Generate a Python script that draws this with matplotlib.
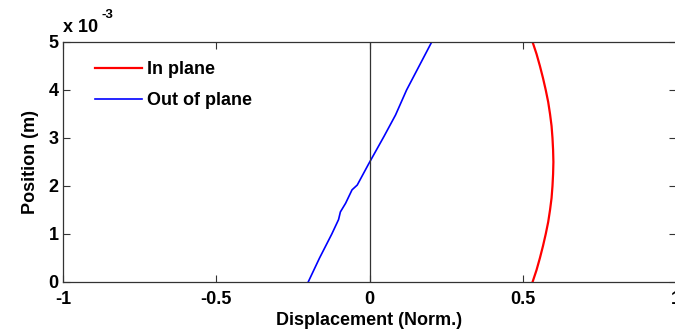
import matplotlib
matplotlib.use("Agg")
import matplotlib.pyplot as plt
from matplotlib.ticker import FuncFormatter

plt.rcParams['font.family'] = ['Liberation Sans', 'DejaVu Sans']
plt.rcParams['font.weight'] = 'bold'

# Data (position in metres, displacement normalised)
red_pos = [0.0, 0.25e-3, 0.5e-3, 0.75e-3, 1.0e-3, 1.25e-3, 1.5e-3, 1.75e-3, 2.0e-3, 2.25e-3,
           2.5e-3, 2.75e-3, 3.0e-3, 3.25e-3, 3.5e-3, 3.75e-3, 4.0e-3, 4.25e-3, 4.5e-3, 4.75e-3, 5.0e-3]
red_disp = [0.532, 0.545, 0.556, 0.566, 0.575, 0.583, 0.589, 0.594, 0.597, 0.599,
            0.600, 0.599, 0.597, 0.594, 0.589, 0.583, 0.575, 0.566, 0.556, 0.545, 0.532]

blue_pos = [0.0, 0.5e-3, 1.0e-3, 1.3e-3, 1.46e-3, 1.64e-3, 1.92e-3, 2.02e-3, 2.47e-3,
            3.03e-3, 3.48e-3, 4.0e-3, 4.5e-3, 5.0e-3]
blue_disp = [-0.200, -0.163, -0.123, -0.101, -0.095, -0.078, -0.057, -0.040, -0.002,
             0.047, 0.085, 0.121, 0.162, 0.203]

legend_labels = ["In plane", "Out of plane"]
x_ticks = [-1, -0.5, 0, 0.5, 1]
x_tick_labels = ["-1", "-0.5", "0", "0.5", "1"]
y_ticks = [0, 1e-3, 2e-3, 3e-3, 4e-3, 5e-3]

W, H = 675, 332
fig = plt.figure(figsize=(W / 100, H / 100), dpi=100)
ax = fig.add_axes([63 / W, 1 - 282 / H, (676 - 63) / W, (282 - 42) / H])

ax.plot(red_disp, red_pos, color='#ff0000', lw=1.6, label=legend_labels[0])
ax.plot(blue_disp, blue_pos, color='#0000ff', lw=1.2, label=legend_labels[1])
ax.axvline(0, color='#333333', lw=0.9)

ax.set_xlim(-1, 1)
ax.set_ylim(0, 5e-3)
ax.set_xticks(x_ticks)
ax.set_xticklabels(x_tick_labels)
ax.set_yticks(y_ticks)
ax.yaxis.set_major_formatter(FuncFormatter(lambda v, p: "%d" % round(v * 1e3)))

for s in ax.spines.values():
    s.set_color('#333333')
    s.set_linewidth(0.9)
ax.tick_params(direction='in', length=5, width=0.8, color='#333333',
               top=True, right=True, labelsize=13)
ax.tick_params(axis='x', pad=6.5)
ax.tick_params(axis='y', pad=3)
for lab in ax.get_xticklabels() + ax.get_yticklabels():
    lab.set_fontweight('bold')

ax.set_xlabel("Displacement (Norm.)", fontsize=13, fontweight='bold', labelpad=3)
ax.set_ylabel("Position (m)", fontsize=13, fontweight='bold', labelpad=7)

fig.text(63 / W, 1 - 27 / H, "x 10", fontsize=13, fontweight='bold', va='center', ha='left')
fig.text(102 / W, 1 - 15 / H, "-3", fontsize=9.5, fontweight='bold', va='center', ha='left')

leg = ax.legend(loc='upper left', frameon=False, handlelength=2.6,
                handletextpad=0.3, labelspacing=0.77, borderaxespad=0.0,
                bbox_to_anchor=(0.04, 0.95), prop={'weight': 'bold', 'size': 13})

fig.savefig("out.png", dpi=100)
